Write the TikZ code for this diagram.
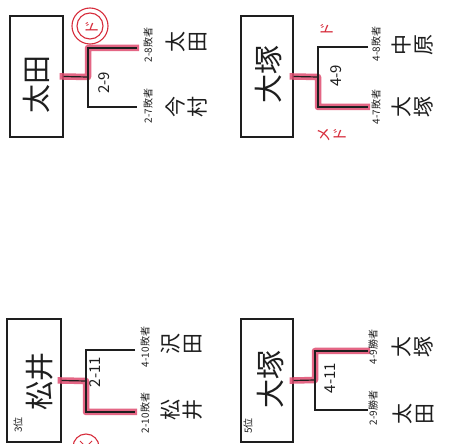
\documentclass[tikz,border=0pt]{standalone}
\usepackage{fontspec}
\newfontfamily\jp{Noto Sans CJK JP}
\usetikzlibrary{calc}
\definecolor{hl}{RGB}{224,76,112}
\definecolor{rd}{RGB}{215,45,60}
\definecolor{ink}{RGB}{30,30,30}
\begin{document}
\begin{tikzpicture}[x=1pt,y=-1pt,
  rbox/.style={draw=ink,line width=1.3pt,inner sep=0pt},
  wire/.style={draw=ink,line width=1.2pt},
  win/.style={draw=hl,line width=6.5pt,opacity=0.85,line join=round,shorten <=-4pt,shorten >=-2pt},
  big/.style={rotate=90,font=\jp\fontsize{29}{29}\selectfont,text=ink,inner sep=0pt},
  rank/.style={rotate=90,font=\jp\fontsize{10}{10}\selectfont,text=ink,inner sep=0pt},
  pname/.style={rotate=90,align=center,font=\jp\fontsize{21}{22}\selectfont,text=ink,inner sep=0pt},
  lab/.style={rotate=90,font=\jp\fontsize{10}{10}\selectfont,text=ink,inner sep=0pt},
  match/.style={rotate=90,font=\jp\fontsize{15}{15}\selectfont,text=ink,inner sep=0pt},
  redtext/.style={rotate=90,align=center,font=\jp\fontsize{15}{16}\selectfont,text=rd,inner sep=0pt},
  ring/.style={draw=rd,circle,line width=1.1pt,inner sep=0pt}
]
\useasboundingbox (0,0) rectangle (451,444);
\fill[white] (0,0) rectangle (451,444);

% ---------- bracket 1 ----------
\node[rbox,minimum width=53pt,minimum height=121pt] (b1) at (36.5,76.5) {};
\node[big] (b1t) at (37,85) {太田};
\coordinate (j1) at (88,77);
\coordinate (t1) at (137,48);
\coordinate (u1) at (137,107);
\draw[win] (b1.east) -- (j1) |- (t1);
\draw[wire] (b1.east) -- (j1);
\draw[wire] (t1) -| (j1) |- (u1);
\node[match] (m1) at (104,83) {2-9};
\node[lab] (l1a) at (148,45) {2-8敗者};
\node[lab] (l1b) at (148,106) {2-7敗者};
\node[pname] (n1a) at (186,42) {太\\田};
\node[pname] (n1b) at (186,107) {今\\村};
\node[ring,minimum size=36pt] (c1o) at (90,26) {};
\node[ring,minimum size=26pt] (c1i) at (90,26) {};
\node[redtext] (c1t) at (92,28) {ド};

% ---------- bracket 2 ----------
\node[rbox,minimum width=52pt,minimum height=121pt] (b2) at (267,76.5) {};
\node[big] (b2t) at (268,75) {大塚};
\coordinate (j2) at (318,77);
\coordinate (t2) at (368,47);
\coordinate (u2) at (368,107);
\draw[win] (b2.east) -- (j2) |- (u2);
\draw[wire] (b2.east) -- (j2);
\draw[wire] (t2) -| (j2) |- (u2);
\node[match] (m2) at (336,76) {4-9};
\node[lab] (l2a) at (376,44) {4-8敗者};
\node[lab] (l2b) at (376,107) {4-7敗者};
\node[pname] (n2a) at (413,45) {中\\原};
\node[pname] (n2b) at (413,107) {大\\塚};
\node[redtext] (r2a) at (327,30) {ド};
\node[redtext] (r2b) at (332,135) {メ\\ド};

% ---------- bracket 3 ----------
\node[rbox,minimum width=54pt,minimum height=123pt] (b3) at (34,380.5) {};
\node[rank] (b3r) at (18,425) {3位};
\node[big] (b3t) at (40,381) {松井};
\coordinate (j3) at (86,381);
\coordinate (t3) at (135,350);
\coordinate (u3) at (135,412);
\draw[win] (b3.east) -- (j3) |- (u3);
\draw[wire] (b3.east) -- (j3);
\draw[wire] (t3) -| (j3) |- (u3);
\node[match] (m3) at (95,372) {2-11};
\node[lab] (l3a) at (145,347) {4-10敗者};
\node[lab] (l3b) at (145,413) {2-10敗者};
\node[pname] (n3a) at (182,344) {沢\\田};
\node[pname] (n3b) at (182,410) {松\\井};
\node[ring,minimum size=26pt] (c3) at (86,447) {};
\draw[rd,line width=1pt] ($(c3)+(-6,-6)$) -- ($(c3)+(6,6)$);
\draw[rd,line width=1pt] ($(c3)+(-6,6)$) -- ($(c3)+(6,-6)$);

% ---------- bracket 4 ----------
\node[rbox,minimum width=52pt,minimum height=123pt] (b4) at (267,380.5) {};
\node[rank] (b4r) at (248,426) {5位};
\node[big] (b4t) at (270,380) {大塚};
\coordinate (j4) at (315,380);
\coordinate (t4) at (368,351);
\coordinate (u4) at (368,410);
\draw[win] (b4.east) -- (j4) |- (t4);
\draw[wire] (b4.east) -- (j4);
\draw[wire] (t4) -| (j4) |- (u4);
\node[match] (m4) at (330,378) {4-11};
\node[lab] (l4a) at (373,347) {4-9勝者};
\node[lab] (l4b) at (373,408) {2-9勝者};
\node[pname] (n4a) at (413,347) {大\\塚};
\node[pname] (n4b) at (413,414) {太\\田};
\end{tikzpicture}
\end{document}
